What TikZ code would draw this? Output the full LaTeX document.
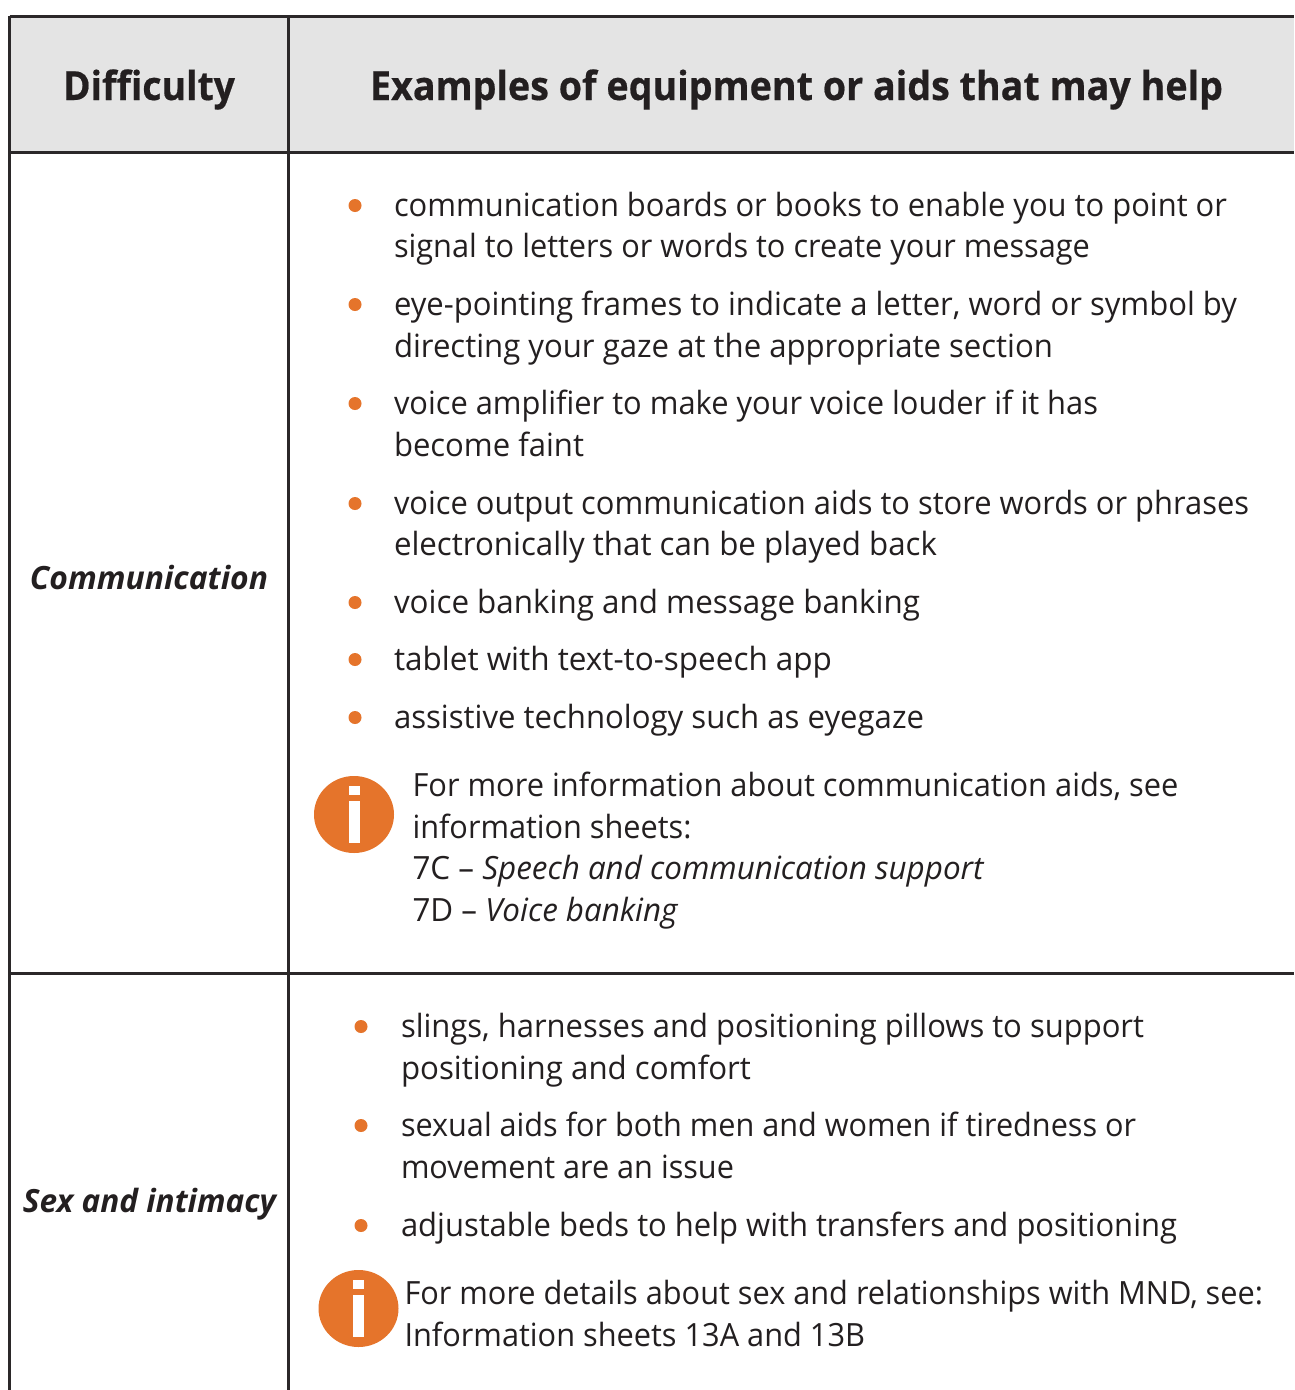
\documentclass[tikz,border=0pt]{standalone}
\usepackage{graphicx}
\usepackage{fontspec}
\usetikzlibrary{shapes.geometric}
\setmainfont{Open Sans}
\definecolor{rulecol}{HTML}{2B2829}
\definecolor{headfill}{HTML}{E4E4E4}
\definecolor{orangecol}{HTML}{E5742B}
\definecolor{inkcol}{HTML}{231F20}
\newsavebox\txtbox
\tikzset{
  textline/.style={anchor=base west,inner sep=0pt,outer sep=0pt,text=inkcol,font=\fontsize{32}{38}\selectfont},
  gridline/.style={draw=rulecol,line width=3pt},
  bulletdot/.style={circle,fill=orangecol,draw=none,minimum size=13pt,inner sep=0pt},
  infodisc/.style={ellipse,fill=orangecol,draw=none,minimum width=80pt,minimum height=77pt,inner sep=0pt},
}
\newcommand\txtline[5]{%
  \node[textline] (#1) at (#2,#3) {%
    \sbox\txtbox{#5}%
    \pgfmathsetmacro\txtratio{#4/\the\wd\txtbox}%
    \scalebox{\txtratio}[1]{#5}};}
\newcommand\infoicon[3]{%
  \node[infodisc] (#1) at (#2,#3) {};
  \fill[white] (#2-5.5,#3-29) rectangle (#2+5.5,#3-20);
  \fill[white] (#2-5.5,#3-14) rectangle (#2+5.5,#3+28);}
\newcommand\heavy{\bfseries\addfontfeature{FakeBold=0.5}}
\begin{document}
\begin{tikzpicture}[x=1pt,y=-1pt]
\useasboundingbox (0,0) rectangle (1294,1390);
\fill[white] (0,0) rectangle (1294,1390);
\fill[headfill] (9.5,16) rectangle (1294,152);
\coordinate (tl) at (9.5,16);
\coordinate (tr) at (1294,16);
\coordinate (hl) at (9.5,152);
\coordinate (hr) at (1294,152);
\coordinate (rl) at (9.5,973);
\coordinate (rr) at (1294,973);
\coordinate (bl) at (9.5,1390);
\coordinate (ct) at (288.5,16);
\coordinate (cb) at (288.5,1390);
\draw[gridline] (tl) -- (tr);
\draw[gridline] (hl) -- (hr);
\draw[gridline] (rl) -- (rr);
\draw[gridline] (tl) -- (bl);
\draw[gridline] (ct) -- (cb);
\txtline{h1}{63}{100}{172}{\fontsize{40}{46}\selectfont\heavy Difficulty}
\txtline{h2}{370}{100}{853}{\fontsize{40}{46}\selectfont\heavy Examples of equipment or aids that may help}
\txtline{r1}{30}{589}{238}{\bfseries\itshape Communication}
\txtline{r2}{23}{1212}{253}{\bfseries\itshape Sex and intimacy}
\foreach \n/\yy in {a/205.5,b/304.5,c/403.5,d/503.5,e/602.5,f/659.5,g/717.5}
  \node[bulletdot] (bul\n) at (355,\yy) {};
\foreach \n/\yy in {h/1026.5,i/1125.5,j/1225.5}
  \node[bulletdot] (bul\n) at (361,\yy) {};
\txtline{a1}{394}{216}{833}{communication boards or books to enable you to point or}
\txtline{a2}{394}{257}{696}{signal to letters or words to create your message}
\txtline{b1}{394}{315}{843}{eye-pointing frames to indicate a letter, word or symbol by}
\txtline{b2}{394}{357}{659}{directing your gaze at the appropriate section}
\txtline{c1}{394}{414}{704}{voice amplifier to make your voice louder if it has}
\txtline{c2}{394}{456}{190}{become faint}
\txtline{d1}{394}{514}{855}{voice output communication aids to store words or phrases}
\txtline{d2}{394}{555}{543}{electronically that can be played back}
\txtline{e1}{394}{613}{526}{voice banking and message banking}
\txtline{f1}{394}{670}{438}{tablet with text-to-speech app}
\txtline{g1}{394}{728}{530}{assistive technology such as eyegaze}
\infoicon{icona}{354}{814.5}
\txtline{i1}{412.5}{796}{766}{For more information about communication aids, see}
\txtline{i2}{412.5}{838}{279}{information sheets:}
\txtline{i3}{412.5}{879}{571}{7C -- \itshape Speech and communication support}
\txtline{i4}{412.5}{921}{265}{7D -- \itshape Voice banking}
\txtline{h1x}{401}{1037}{743}{slings, harnesses and positioning pillows to support}
\txtline{h2x}{401}{1079}{350}{positioning and comfort}
\txtline{i1x}{401}{1136}{735}{sexual aids for both men and women if tiredness or}
\txtline{i2x}{401}{1178}{333}{movement are an issue}
\txtline{j1x}{401}{1236}{776}{adjustable beds to help with transfers and positioning}
\infoicon{iconb}{358.5}{1308.5}
\txtline{k1}{404.5}{1304}{858.5}{For more details about sex and relationships with MND, see:}
\txtline{k2}{404.5}{1346}{460.5}{Information sheets 13A and 13B}
\end{tikzpicture}
\end{document}
